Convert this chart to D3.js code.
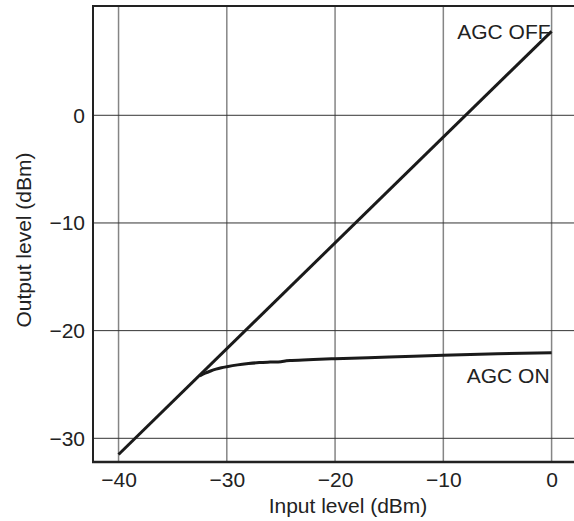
<!DOCTYPE html>
<html>
<head>
    <title>AGC Input/Output Characteristic</title>
    <script src="https://cdnjs.cloudflare.com/ajax/libs/d3/7.8.5/d3.min.js"></script>
    <style>
        body { margin: 0; background: #fff; }
        svg text {
            font-family: "Liberation Sans", Arial, sans-serif;
            font-size: 21px;
            fill: #222;
        }
        .grid-x line { stroke: #858585; stroke-width: 1.5; }
        .grid-y line { stroke: #333; stroke-width: 1; }
        .frame { stroke: #222; fill: none; }
        .curve { fill: none; stroke: #1a1a1a; stroke-width: 3; stroke-linejoin: round; }
    </style>
</head>
<body>
    <div class="chart-container"></div>
    <script>
        // Tick values
        const xTicks = [-40, -30, -20, -10, 0];
        const yTicks = [-30, -20, -10, 0];

        // AGC OFF: straight line
        const inputOff = [-40, 0];
        const outputOff = [-31.5, 7.8];

        // AGC ON: compressed curve
        const inputOn = [-32.5, -32, -31.5, -31, -30.5, -30, -29, -28, -27, -26, -25, -24.5, -24, -22, -20, -15, -10, -5, 0];
        const outputOn = [-24.2, -23.95, -23.75, -23.58, -23.45, -23.35, -23.18, -23.06, -22.97, -22.92, -22.88, -22.8, -22.77, -22.68, -22.6, -22.45, -22.28, -22.15, -22.05];

        const W = 574, H = 521;
        const plot = { left: 93, top: 6, bottom: 462, right: 574 };

        const svg = d3.select('.chart-container')
            .append('svg')
            .attr('width', W)
            .attr('height', H);

        // plot area is cut off on the right side of the picture
        const xScale = d3.scaleLinear()
            .domain([-42.36, 2.07])
            .range([plot.left, plot.right]);

        const yScale = d3.scaleLinear()
            .domain([-32.2, 10.15])
            .range([plot.bottom, plot.top]);

        // Vertical grid
        svg.append('g')
            .attr('class', 'grid-x')
            .selectAll('line')
            .data(xTicks)
            .enter()
            .append('line')
            .attr('x1', d => xScale(d))
            .attr('x2', d => xScale(d))
            .attr('y1', plot.top)
            .attr('y2', plot.bottom);

        // Horizontal grid
        svg.append('g')
            .attr('class', 'grid-y')
            .selectAll('line')
            .data(yTicks)
            .enter()
            .append('line')
            .attr('x1', plot.left)
            .attr('x2', plot.right)
            .attr('y1', d => yScale(d))
            .attr('y2', d => yScale(d));

        // Frame: top, left, bottom
        svg.append('line').attr('class', 'frame').attr('stroke-width', 2)
            .attr('x1', plot.left).attr('x2', plot.right).attr('y1', plot.top).attr('y2', plot.top);
        svg.append('line').attr('class', 'frame').attr('stroke-width', 2)
            .attr('x1', plot.left).attr('x2', plot.left).attr('y1', plot.top - 1).attr('y2', plot.bottom + 1);
        svg.append('line').attr('class', 'frame').attr('stroke-width', 2.5)
            .attr('x1', plot.left - 1).attr('x2', plot.right).attr('y1', plot.bottom).attr('y2', plot.bottom);

        // Axes (labels only)
        const fmt = d => d < 0 ? '\u2212' + Math.abs(d) : String(d);

        const gx = svg.append('g')
            .attr('transform', `translate(0,${plot.bottom})`)
            .call(d3.axisBottom(xScale).tickValues(xTicks).tickSize(0).tickPadding(10).tickFormat(fmt));
        gx.select('.domain').remove();

        const gy = svg.append('g')
            .attr('transform', `translate(${plot.left},0)`)
            .call(d3.axisLeft(yScale).tickValues(yTicks).tickSize(0).tickPadding(8).tickFormat(fmt));
        gy.select('.domain').remove();

        svg.selectAll('.tick text')
            .attr('fill', '#222')
            .style('font-size', '21px')
            .style('font-family', '"Liberation Sans", Arial, sans-serif');

        // Lines
        const offData = inputOff.map((d, i) => ({ x: d, y: outputOff[i] }));
        const onData = inputOn.map((d, i) => ({ x: d, y: outputOn[i] }));

        svg.append('path')
            .datum(offData)
            .attr('class', 'curve')
            .attr('d', d3.line().x(d => xScale(d.x)).y(d => yScale(d.y)));

        svg.append('path')
            .datum(onData)
            .attr('class', 'curve')
            .attr('d', d3.line().curve(d3.curveMonotoneX).x(d => xScale(d.x)).y(d => yScale(d.y)));

        // Line labels
        svg.append('text')
            .attr('x', xScale(0) - 1)
            .attr('y', 38.5)
            .attr('text-anchor', 'end')
            .text('AGC OFF');

        svg.append('text')
            .attr('x', xScale(0) - 2)
            .attr('y', 383)
            .attr('text-anchor', 'end')
            .text('AGC ON');

        // Axis titles
        svg.append('text')
            .attr('x', 348)
            .attr('y', 513)
            .attr('text-anchor', 'middle')
            .text('Input level (dBm)');

        svg.append('text')
            .attr('transform', 'translate(31,240) rotate(-90)')
            .attr('text-anchor', 'middle')
            .text('Output level (dBm)');
    </script>
</body>
</html>
